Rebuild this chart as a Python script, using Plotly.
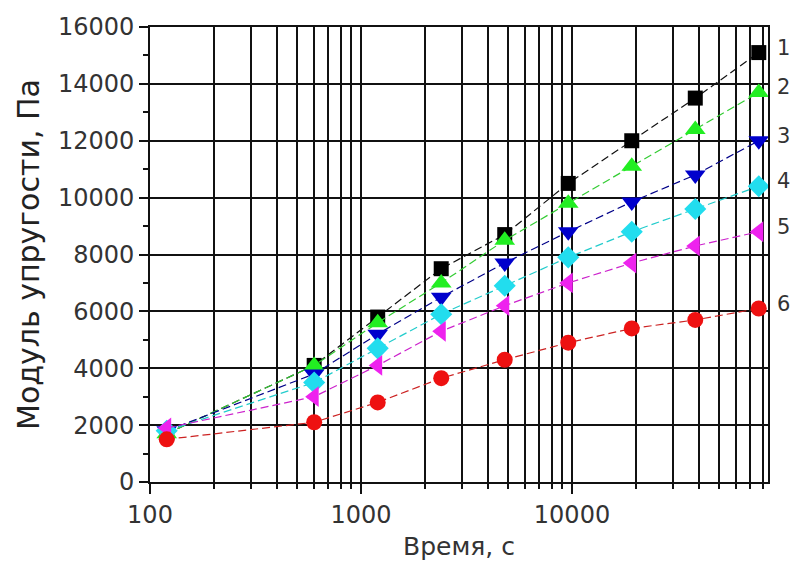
import plotly.graph_objects as go

time_s = [120, 600, 1200, 2400, 4800, 9600, 19200, 38400, 76800]
series_names = ["1", "2", "3", "4", "5", "6"]
s1 = [1700, 4100, 5800, 7500, 8700, 10500, 12000, 13500, 15100]
s2 = [1700, 4100, 5600, 7000, 8500, 9800, 11100, 12400, 13700]
s3 = [1800, 3800, 5200, 6500, 7700, 8800, 9850, 10800, 12000]
s4 = [1800, 3500, 4700, 5900, 6900, 7900, 8800, 9600, 10400]
s5 = [1900, 3000, 4100, 5300, 6200, 7000, 7700, 8300, 8800]
s6 = [1500, 2100, 2800, 3650, 4300, 4900, 5400, 5700, 6100]
x_ticks = [100, 1000, 10000]
x_tick_labels = ["100", "1000", "10000"]
y_ticks = [0, 2000, 4000, 6000, 8000, 10000, 12000, 14000, 16000]
y_tick_labels = ["0", "2000", "4000", "6000", "8000", "10000", "12000", "14000", "16000"]

values = [s1, s2, s3, s4, s5, s6]
marker_colors = ["#000000", "#22ee22", "#0000cc", "#22ddee", "#ee22ee", "#ee1111"]
line_colors = ["#111111", "#33cc33", "#000088", "#22cccc", "#cc22cc", "#cc2222"]
symbols = ["square", "triangle-up", "triangle-down", "diamond", "triangle-left", "circle"]
sizes = [15, 18, 18, 17, 18, 16]

fig = go.Figure()
for name, ys, mc, lc, sym, sz in zip(series_names, values, marker_colors, line_colors, symbols, sizes):
    fig.add_trace(go.Scatter(
        x=time_s, y=ys, name=name, mode="lines+markers",
        line=dict(color=lc, width=1.2, dash="8px,4px"),
        marker=dict(symbol=sym, size=sz, color=mc, line=dict(width=0)),
        showlegend=False,
    ))
    fig.add_annotation(
        x=1.012, xref="paper", y=ys[-1], yref="y", yshift=5,
        text=name, showarrow=False, xanchor="left",
        font=dict(family="DejaVu Sans", size=21, color="#333333"),
    )

fig.update_xaxes(
    type="log", range=[2, 4.929], automargin=False,
    tickvals=x_ticks, ticktext=x_tick_labels,
    showgrid=True, gridcolor="#111111", gridwidth=1.6,
    ticks="outside", ticklen=10, tickcolor="#111111", tickwidth=1.5,
    minor=dict(dtick="D1", showgrid=True, gridcolor="#111111", gridwidth=1.6,
               ticks="outside", ticklen=5, tickcolor="#111111"),
    showline=True, linecolor="#111111", linewidth=1.6, mirror=True,
    tickfont=dict(family="DejaVu Sans", size=24, color="#333333"),
    title=dict(text="Время, с", font=dict(family="DejaVu Sans", size=25, color="#333333"), standoff=14),
    zeroline=False,
)
fig.update_yaxes(
    range=[0, 16000], tickvals=y_ticks, ticktext=y_tick_labels, automargin=False,
    showgrid=True, gridcolor="#111111", gridwidth=1.6,
    ticks="outside", ticklen=9, tickcolor="#111111", tickwidth=1.5,
    minor=dict(dtick=1000, ticks="outside", ticklen=5, tickcolor="#111111", showgrid=False),
    showline=True, linecolor="#111111", linewidth=1.6, mirror=True,
    tickfont=dict(family="DejaVu Sans", size=24, color="#333333"),
    title=dict(text="Модуль упругости, Па", font=dict(family="DejaVu Sans", size=30, color="#222222"), standoff=10),
    zeroline=False,
)
fig.update_layout(
    width=795, height=561,
    margin=dict(l=150, r=27, t=27, b=79),
    plot_bgcolor="white", paper_bgcolor="white",
)
fig.write_html("out.html")
